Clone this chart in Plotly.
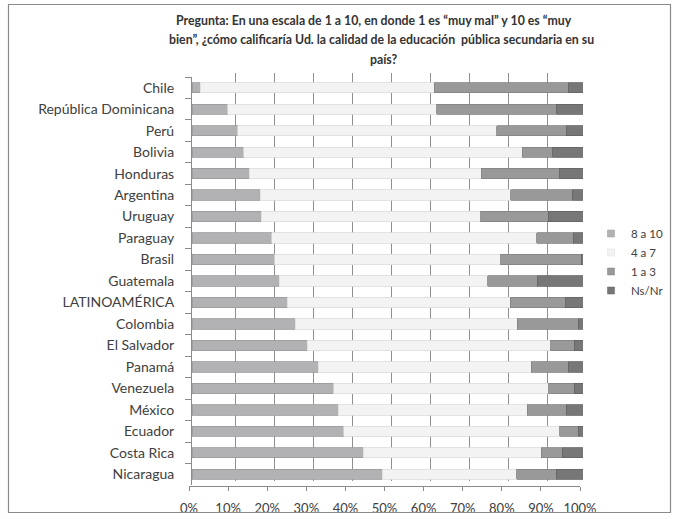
import plotly.graph_objects as go

# Countries, top to bottom as listed
paises = [
    "Chile", "República Dominicana", "Perú", "Bolivia", "Honduras", "Argentina",
    "Uruguay", "Paraguay", "Brasil", "Guatemala", "LATINOAMÉRICA", "Colombia",
    "El Salvador", "Panamá", "Venezuela", "México", "Ecuador", "Costa Rica", "Nicaragua",
]

# Share of answers per rating band (%)
r_8_10 = [2.1, 9.1, 11.7, 13.2, 14.7, 17.4, 17.7, 20.4, 21.1, 22.3, 24.3, 26.4,
          29.5, 32.3, 36.3, 37.4, 38.8, 43.8, 48.7]
r_4_7 = [59.9, 53.5, 66.3, 71.2, 59.3, 64.1, 56.2, 67.8, 57.9, 53.3, 57.1, 56.8,
         62.2, 54.5, 54.9, 48.4, 55.3, 45.5, 34.4]
r_1_3 = [34.2, 30.7, 17.7, 7.9, 20.1, 15.8, 17.2, 9.3, 20.6, 12.7, 14.2, 15.6,
         6.0, 9.4, 6.5, 9.9, 4.7, 5.4, 10.1]
ns_nr = [3.8, 6.7, 4.3, 7.7, 5.9, 2.7, 8.9, 2.5, 0.4, 11.7, 4.4, 1.2,
         2.3, 3.8, 2.3, 4.3, 1.2, 5.3, 6.8]

series = [
    ("8 a 10", r_8_10, "#b2b2b4", "#9a9a9c"),
    ("4 a 7", r_4_7, "#f3f3f3", "#dcdcdc"),
    ("1 a 3", r_1_3, "#999999", "#828282"),
    ("Ns/Nr", ns_nr, "#777777", "#636363"),
]

ticks = [0, 10, 20, 30, 40, 50, 60, 70, 80, 90, 100]
tick_text = [f"{t}%" for t in ticks]

FONT = "Lato"
TXT = "#404040"
W, H = 678, 519


# Paper spans the whole figure; helpers convert pixel positions to paper units
def fx(px):
    return px / W


def fy(py):
    return 1 - py / H


fig = go.Figure()

# Back-wall grid: first subplot, so it sits underneath the bars
fig.add_trace(go.Scatter(x=[None], y=[None], xaxis="x", yaxis="y",
                         showlegend=False, hoverinfo="skip"))

for name, vals, col, edge in series:
    fig.add_trace(go.Bar(
        y=paises, x=vals, name=name, orientation="h",
        xaxis="x2", yaxis="y2",
        marker=dict(color=col, line=dict(color=edge, width=0.8)),
        showlegend=False,
    ))
    # Legend entry with a small square key
    fig.add_trace(go.Scatter(
        x=[None], y=[None], mode="markers", name=name,
        xaxis="x2", yaxis="y2",
        marker=dict(symbol="square", size=7, color=col,
                    line=dict(color=edge, width=0.5)),
    ))

# Front floor axis carrying the percentage labels
fig.add_trace(go.Scatter(x=[None], y=[None], xaxis="x3", yaxis="y2",
                         showlegend=False, hoverinfo="skip"))

fig.update_layout(
    width=W, height=H,
    margin=dict(l=0, r=0, t=0, b=0),
    paper_bgcolor="white", plot_bgcolor="rgba(0,0,0,0)",
    barmode="stack", bargap=0.52,
    font=dict(family=FONT, size=13, color=TXT),
    xaxis=dict(domain=[fx(196), fx(587)], range=[0, 100], anchor="y",
               tickvals=ticks, showticklabels=False, showgrid=True,
               gridcolor="#8f8f8f", gridwidth=1, zeroline=False,
               showline=False, ticks="", automargin=False),
    yaxis=dict(domain=[fy(481), fy(73)], anchor="x", showgrid=False,
               showticklabels=False, zeroline=False, range=[0, 1],
               automargin=False),
    xaxis2=dict(domain=[fx(192), fx(583)], range=[0, 100], anchor="y2",
                showgrid=False, zeroline=False, showticklabels=False,
                showline=False, ticks="", automargin=False),
    yaxis2=dict(domain=[fy(485), fy(77)], anchor="x2", autorange="reversed",
                categoryorder="array", categoryarray=paises,
                showline=True, linecolor="#8a8a8a", linewidth=1,
                ticks="outside", ticklen=6, tickcolor="#8a8a8a",
                tickson="boundaries", ticklabelstandoff=14,
                tickfont=dict(family=FONT, size=14, color=TXT),
                showgrid=False, zeroline=False, automargin=False),
    xaxis3=dict(domain=[fx(189), fx(580)], range=[0, 100], anchor="free",
                position=fy(486), tickvals=ticks, ticktext=tick_text,
                showline=True, linecolor="#8a8a8a", linewidth=1,
                ticks="outside", ticklen=4, tickcolor="#8a8a8a",
                ticklabelstandoff=6, showgrid=False, zeroline=False,
                tickfont=dict(family=FONT, size=13, color=TXT),
                automargin=False),
    legend=dict(x=fx(591), y=fy(219), xanchor="left", yanchor="top",
                traceorder="normal",
                font=dict(family=FONT, size=11.5, color=TXT),
                itemwidth=30, tracegroupgap=0, bgcolor="rgba(0,0,0,0)"),
    showlegend=True,
)

# Title, one annotation per line
title_lines = [
    ("Pregunta: En una escala de 1 a 10, en donde 1 es “muy mal” y 10 es “muy", 374, 20),
    ("bien”, ¿cómo calificaría Ud. la calidad de la educación  pública secundaria en su", 381, 39.5),
    ("país?", 384, 59),
]
for line, cx, cy in title_lines:
    fig.add_annotation(
        text=f"<b>{line}</b>", xref="paper", yref="paper",
        x=fx(cx), y=fy(cy), xanchor="center", yanchor="middle",
        showarrow=False, font=dict(family=FONT, size=12.3, color="#333333"),
    )

# Outer chart frame
fig.add_shape(type="rect", xref="paper", yref="paper",
              x0=fx(8.5), x1=fx(670.5), y0=fy(512.5), y1=fy(4.5),
              line=dict(color="#8a8a8a", width=1.2), fillcolor="rgba(0,0,0,0)",
              layer="above")

fig.write_html("out.html")
